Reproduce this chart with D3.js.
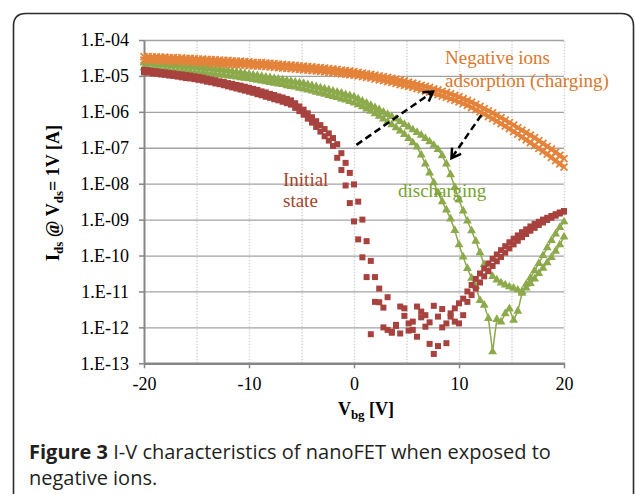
<!DOCTYPE html>
<html>
<head>
<meta charset="utf-8">
<script src="https://cdn.jsdelivr.net/npm/d3@7"></script>
<style>
  body { margin: 0; background: #fff; }
  svg { display: block; }
  .axis text { font-family: "Liberation Serif", "Times New Roman", serif; font-size: 18px; fill: #000; }
  .axis .domain { stroke: #868686; stroke-width: 2; }
  .axis .tick line { stroke: #868686; stroke-width: 1.5; }
  .grid .domain { display: none; }
  .grid.y .tick line { stroke: #a3a3a3; stroke-width: 1.3; }
  .grid.x .tick line { stroke: #d6d6d6; stroke-width: 1.5; stroke-dasharray: 1.5,1.5; }
  .label { font-family: "Liberation Serif", "Times New Roman", serif; font-size: 19px; }
  .title { font-family: "Liberation Serif", "Times New Roman", serif; font-size: 18px; font-weight: bold; fill: #000; }
  .caption { font-family: "Open Sans", sans-serif; font-size: 20px; fill: #231f20; }
</style>
</head>
<body>
<div id="chart"></div>
<script>
// Gate voltage sweep (V)
var vbg = [
  -20, -19.6, -19.2, -18.8, -18.4, -18, -17.6, -17.2, -16.8, -16.4,
  -16, -15.6, -15.2, -14.8, -14.4, -14, -13.6, -13.2, -12.8, -12.4,
  -12, -11.6, -11.2, -10.8, -10.4, -10, -9.6, -9.2, -8.8, -8.4,
  -8, -7.6, -7.2, -6.8, -6.4, -6, -5.6, -5.2, -4.8, -4.4,
  -4, -3.6, -3.2, -2.8, -2.4, -2, -1.6, -1.2, -0.8, -0.4,
  0, 0.4, 0.8, 1.2, 1.6, 2, 2.4, 2.8, 3.2, 3.6,
  4, 4.4, 4.8, 5.2, 5.6, 6, 6.4, 6.8, 7.2, 7.6,
  8, 8.4, 8.8, 9.2, 9.6, 10, 10.4, 10.8, 11.2, 11.6,
  12, 12.4, 12.8, 13.2, 13.6, 14, 14.4, 14.8, 15.2, 15.6,
  16, 16.4, 16.8, 17.2, 17.6, 18, 18.4, 18.8, 19.2, 19.6,
  20
];

// Ids values, stored as log10(A)
var initialA = [
  -4.90, -4.91, -4.93, -4.94, -4.96, -4.97, -4.99, -5.00, -5.02, -5.04,
  -5.06, -5.07, -5.09, -5.11, -5.13, -5.16, -5.18, -5.21, -5.23, -5.26,
  -5.29, -5.32, -5.35, -5.38, -5.41, -5.44, -5.47, -5.51, -5.54, -5.58,
  -5.61, -5.65, -5.68, -5.72, -5.76, -5.80, -5.89, -5.98, -6.08, -6.19,
  -6.30, -6.42, -6.55, -6.68, -6.80, -6.95, -7.28, -7.62, -8.05, -8.54,
  -9.05, -9.55, -10.05, -10.60, -12.19, -11.29, -11.30, -12.00, -11.16, -12.15,
  -11.96, -11.42, -11.47, -11.89, -12.07, -11.42, -11.56, -11.98, -11.86, -12.74,
  -11.70, -12.00, -11.89, -11.70, -11.47, -11.33, -11.20, -11.00, -10.82, -10.65,
  -10.50, -10.36, -10.22, -10.09, -9.97, -9.85, -9.74, -9.63, -9.53, -9.44,
  -9.35, -9.27, -9.19, -9.12, -9.06, -9.00, -8.95, -8.90, -8.85, -8.80,
  -8.76
];

var initialB = [
  -4.83, -4.84, -4.86, -4.87, -4.89, -4.90, -4.92, -4.93, -4.95, -4.96,
  -4.98, -4.99, -5.01, -5.03, -5.05, -5.08, -5.10, -5.12, -5.15, -5.17,
  -5.20, -5.22, -5.25, -5.27, -5.30, -5.33, -5.36, -5.39, -5.43, -5.46,
  -5.50, -5.53, -5.57, -5.60, -5.64, -5.68, -5.76, -5.85, -5.94, -6.04,
  -6.15, -6.26, -6.37, -6.48, -6.60, -6.73, -6.90, -7.15, -7.42, -7.70,
  -8.02, -8.50, -9.00, -9.60, -10.15, -10.60, -10.92, -11.45, -12.07, -12.12,
  -11.93, -12.17, -11.68, -12.09, -11.84, -12.26, -11.72, -11.66, -12.46, -11.40,
  -12.52, -11.49, -12.44, -11.61, -11.84, -11.89, -11.66, -11.29, -11.10, -10.92,
  -10.75, -10.58, -10.43, -10.29, -10.16, -10.04, -9.92, -9.80, -9.69, -9.59,
  -9.49, -9.40, -9.31, -9.23, -9.15, -9.08, -9.01, -8.95, -8.89, -8.83,
  -8.78
];

var chargingA = [
  -4.46, -4.46, -4.47, -4.47, -4.48, -4.48, -4.49, -4.49, -4.50, -4.50,
  -4.51, -4.51, -4.52, -4.53, -4.53, -4.54, -4.55, -4.55, -4.56, -4.57,
  -4.57, -4.58, -4.59, -4.59, -4.60, -4.61, -4.62, -4.63, -4.63, -4.64,
  -4.65, -4.66, -4.67, -4.68, -4.69, -4.70, -4.71, -4.72, -4.73, -4.74,
  -4.75, -4.76, -4.77, -4.78, -4.80, -4.81, -4.82, -4.84, -4.85, -4.86,
  -4.88, -4.90, -4.92, -4.94, -4.96, -4.98, -5.00, -5.02, -5.04, -5.07,
  -5.09, -5.12, -5.14, -5.17, -5.20, -5.23, -5.26, -5.29, -5.32, -5.36,
  -5.39, -5.43, -5.46, -5.50, -5.54, -5.58, -5.63, -5.68, -5.73, -5.79,
  -5.85, -5.91, -5.97, -6.03, -6.10, -6.16, -6.23, -6.30, -6.37, -6.44,
  -6.51, -6.58, -6.65, -6.72, -6.80, -6.88, -6.96, -7.04, -7.12, -7.21,
  -7.30
];

var chargingB = [
  -4.56, -4.56, -4.57, -4.57, -4.58, -4.58, -4.59, -4.59, -4.60, -4.60,
  -4.61, -4.61, -4.62, -4.63, -4.63, -4.64, -4.65, -4.65, -4.66, -4.67,
  -4.67, -4.68, -4.69, -4.69, -4.70, -4.71, -4.72, -4.73, -4.73, -4.74,
  -4.75, -4.76, -4.77, -4.78, -4.79, -4.80, -4.81, -4.82, -4.83, -4.84,
  -4.85, -4.86, -4.87, -4.89, -4.90, -4.91, -4.93, -4.94, -4.95, -4.97,
  -4.98, -5.00, -5.02, -5.04, -5.06, -5.09, -5.11, -5.13, -5.16, -5.18,
  -5.21, -5.24, -5.26, -5.29, -5.32, -5.35, -5.38, -5.42, -5.45, -5.49,
  -5.52, -5.56, -5.60, -5.64, -5.68, -5.72, -5.77, -5.82, -5.88, -5.94,
  -6.00, -6.06, -6.13, -6.19, -6.26, -6.33, -6.40, -6.47, -6.55, -6.62,
  -6.70, -6.78, -6.86, -6.94, -7.02, -7.10, -7.18, -7.27, -7.36, -7.45,
  -7.54
];

var dischargingA = [
  -4.78, -4.79, -4.80, -4.81, -4.82, -4.83, -4.84, -4.85, -4.86, -4.87,
  -4.88, -4.89, -4.90, -4.91, -4.92, -4.93, -4.94, -4.95, -4.97, -4.98,
  -5.00, -5.01, -5.03, -5.05, -5.06, -5.08, -5.10, -5.12, -5.14, -5.16,
  -5.18, -5.20, -5.22, -5.24, -5.27, -5.29, -5.31, -5.34, -5.36, -5.39,
  -5.42, -5.45, -5.48, -5.51, -5.54, -5.57, -5.60, -5.64, -5.67, -5.71,
  -5.75, -5.80, -5.86, -5.92, -5.98, -6.05, -6.12, -6.20, -6.28, -6.36,
  -6.44, -6.53, -6.63, -6.74, -6.86, -6.98, -7.20, -7.45, -7.70, -7.97,
  -8.25, -8.50, -8.73, -8.98, -9.30, -9.70, -10.04, -10.36, -10.63, -10.85,
  -11.25, -11.38, -11.75, -12.68, -11.78, -11.85, -11.62, -11.48, -11.80, -11.55,
  -11.05, -10.80, -10.62, -10.42, -10.22, -10.00, -9.78, -9.58, -9.40, -9.22,
  -9.06
];

var dischargingB = [
  -4.64, -4.65, -4.66, -4.67, -4.68, -4.69, -4.70, -4.71, -4.72, -4.73,
  -4.74, -4.75, -4.76, -4.77, -4.78, -4.79, -4.80, -4.81, -4.82, -4.84,
  -4.85, -4.87, -4.89, -4.91, -4.93, -4.95, -4.97, -4.99, -5.01, -5.03,
  -5.05, -5.07, -5.09, -5.11, -5.13, -5.15, -5.17, -5.19, -5.21, -5.24,
  -5.27, -5.30, -5.33, -5.36, -5.39, -5.42, -5.45, -5.48, -5.52, -5.55,
  -5.58, -5.64, -5.70, -5.76, -5.82, -5.88, -5.94, -6.01, -6.07, -6.13,
  -6.20, -6.27, -6.35, -6.42, -6.50, -6.57, -6.65, -6.74, -6.83, -6.93,
  -7.05, -7.22, -7.45, -7.75, -8.10, -8.45, -8.76, -9.04, -9.31, -9.60,
  -9.92, -10.25, -10.45, -10.58, -10.68, -10.76, -10.82, -10.87, -10.91, -10.96,
  -11.00, -10.90, -10.78, -10.65, -10.50, -10.35, -10.20, -10.05, -9.88, -9.70,
  -9.48
];

// Axis ticks
var yTickExp = [-13, -12, -11, -10, -9, -8, -7, -6, -5, -4];
var yTickLabels = ["1.E-13", "1.E-12", "1.E-11", "1.E-10", "1.E-09", "1.E-08", "1.E-07", "1.E-06", "1.E-05", "1.E-04"];
var xTicks = [-20, -10, 0, 10, 20];
var xGridTicks = [-15, -10, -5, 0, 5, 10, 15, 20];

// Annotation arrows, [Vbg, log10 Ids] start -> end
var arrows = [
  [[0.23, -6.92], [7.52, -5.44]],
  [[12.13, -6.09], [9.28, -7.29]]
];

var COLORS = {
  initial: "#a8423e",
  charging: "#e4833a",
  discharging: "#8caa4b"
};

var render = function() {
  var width = 635;
  var height = 494;
  var margins = { top: 40, right: 71, bottom: 130.7, left: 144 };
  var chartWidth = width - margins.left - margins.right;
  var chartHeight = height - margins.top - margins.bottom;

  var svg = d3.select("#chart")
    .append("svg")
    .attr("width", width)
    .attr("height", height);

  // Rounded frame round the figure
  svg.append("path")
    .attr("d", "M13.5,500 L13.5,26 Q13.5,13.5 26,13.5 L621,13.5 Q633.5,13.5 633.5,26 L633.5,500")
    .attr("fill", "none")
    .attr("stroke", "#2b2b2b")
    .attr("stroke-width", 1.6);

  var chart = svg.append("g")
    .attr("transform", "translate(" + margins.left + "," + margins.top + ")");

  var xScale = d3.scaleLinear().domain([-20, 20]).range([0, chartWidth]);
  var yScale = d3.scaleLog().domain([1e-13, 1e-4]).range([chartHeight, 0]);

  var pow = function(e) { return Math.pow(10, e); };

  // Grid
  chart.append("g")
    .attr("class", "grid x")
    .attr("transform", "translate(0," + chartHeight + ")")
    .call(d3.axisBottom(xScale).tickValues(xGridTicks).tickSize(-chartHeight).tickFormat(""));

  chart.append("g")
    .attr("class", "grid y")
    .call(d3.axisLeft(yScale).tickValues(yTickExp.slice(1).map(pow)).tickSize(-chartWidth).tickFormat(""));

  // Axes
  chart.append("g")
    .attr("class", "y axis")
    .call(d3.axisLeft(yScale)
      .tickValues(yTickExp.map(pow))
      .tickSize(5)
      .tickSizeOuter(0)
      .tickPadding(10)
      .tickFormat(function(d, i) { return yTickLabels[i]; }));

  chart.append("g")
    .attr("class", "x axis")
    .attr("transform", "translate(0," + chartHeight + ")")
    .call(d3.axisBottom(xScale)
      .tickValues(xTicks)
      .tickSize(5)
      .tickSizeOuter(0)
      .tickPadding(9)
      .tickFormat(function(d) { return d; }));

  chart.selectAll(".x.axis .domain").style("stroke-width", 2.5);

  var points = function(values) {
    return vbg.map(function(v, i) { return { v: v, e: values[i] }; });
  };

  var line = d3.line()
    .x(function(d) { return xScale(d.v); })
    .y(function(d) { return yScale(pow(d.e)); });

  var place = function(d) {
    return "translate(" + xScale(d.v) + "," + yScale(pow(d.e)) + ")";
  };

  // Discharging: triangles joined by a thin line
  [dischargingA, dischargingB].forEach(function(series) {
    chart.append("path")
      .datum(points(series))
      .attr("d", line)
      .attr("fill", "none")
      .attr("stroke", COLORS.discharging)
      .attr("stroke-width", 1.5);

    chart.append("g")
      .selectAll("path")
      .data(points(series))
      .enter()
      .append("path")
      .attr("transform", place)
      .attr("d", d3.symbol().type(d3.symbolTriangle).size(34))
      .attr("fill", COLORS.discharging);
  });

  // Charging: x markers on a band
  [chargingA, chargingB].forEach(function(series) {
    chart.append("path")
      .datum(points(series))
      .attr("d", line)
      .attr("fill", "none")
      .attr("stroke", COLORS.charging)
      .attr("stroke-width", 4);

    chart.append("g")
      .selectAll("path")
      .data(points(series))
      .enter()
      .append("path")
      .attr("transform", place)
      .attr("d", "M-3.5,-3.5L3.5,3.5M-3.5,3.5L3.5,-3.5")
      .attr("stroke", COLORS.charging)
      .attr("stroke-width", 1.8);
  });

  // Initial state: squares only
  [initialA, initialB].forEach(function(series) {
    chart.append("g")
      .selectAll("path")
      .data(points(series))
      .enter()
      .append("path")
      .attr("transform", place)
      .attr("d", d3.symbol().type(d3.symbolSquare).size(36))
      .attr("fill", COLORS.initial);
  });

  // Dashed arrows
  svg.append("defs")
    .append("marker")
    .attr("id", "head")
    .attr("viewBox", "0 0 14 14")
    .attr("refX", 11)
    .attr("refY", 7)
    .attr("markerWidth", 14)
    .attr("markerHeight", 14)
    .attr("markerUnits", "userSpaceOnUse")
    .attr("orient", "auto")
    .append("path")
    .attr("d", "M2,1.5 L11,7 L2,12.5")
    .attr("fill", "none")
    .attr("stroke", "#000")
    .attr("stroke-width", 2.5);

  chart.selectAll(".arrow")
    .data(arrows)
    .enter()
    .append("line")
    .attr("class", "arrow")
    .attr("x1", function(d) { return xScale(d[0][0]); })
    .attr("y1", function(d) { return yScale(pow(d[0][1])); })
    .attr("x2", function(d) { return xScale(d[1][0]); })
    .attr("y2", function(d) { return yScale(pow(d[1][1])); })
    .attr("stroke", "#000")
    .attr("stroke-width", 2.5)
    .attr("stroke-dasharray", "7,4")
    .attr("marker-end", "url(#head)");

  // Series labels
  var labels = svg.append("g").attr("class", "label");
  labels.append("text").attr("x", 445).attr("y", 64).attr("fill", "#d9782d").text("Negative ions");
  labels.append("text").attr("x", 445).attr("y", 87).attr("fill", "#d9782d").text("adsorption (charging)");
  labels.append("text").attr("x", 283).attr("y", 186).attr("fill", "#a5432a").text("Initial");
  labels.append("text").attr("x", 283).attr("y", 207).attr("fill", "#a5432a").text("state");
  labels.append("text").attr("x", 398).attr("y", 197).attr("fill", "#77a22f").text("discharging");

  // Axis titles
  var yTitle = svg.append("text")
    .attr("class", "title")
    .attr("transform", "translate(59,193) rotate(-90)")
    .attr("text-anchor", "middle");
  yTitle.append("tspan").text("I");
  yTitle.append("tspan").attr("dy", 4).style("font-size", "13px").text("ds");
  yTitle.append("tspan").attr("dy", -4).text(" @ V");
  yTitle.append("tspan").attr("dy", 4).style("font-size", "13px").text("ds");
  yTitle.append("tspan").attr("dy", -4).text("= 1V [A]");

  var xTitle = svg.append("text")
    .attr("class", "title")
    .attr("x", 366)
    .attr("y", 415)
    .attr("text-anchor", "middle");
  xTitle.append("tspan").text("V");
  xTitle.append("tspan").attr("dy", 4).style("font-size", "13px").text("bg");
  xTitle.append("tspan").attr("dy", -4).text(" [V]");

  // Caption
  var cap1 = svg.append("text").attr("class", "caption").attr("x", 29).attr("y", 459);
  cap1.append("tspan").style("font-weight", "bold").text("Figure 3");
  cap1.append("tspan").text(" I-V characteristics of nanoFET when exposed to");
  svg.append("text").attr("class", "caption").attr("x", 29).attr("y", 485).text("negative ions.");
};

window.onload = render;
</script>
</body>
</html>
